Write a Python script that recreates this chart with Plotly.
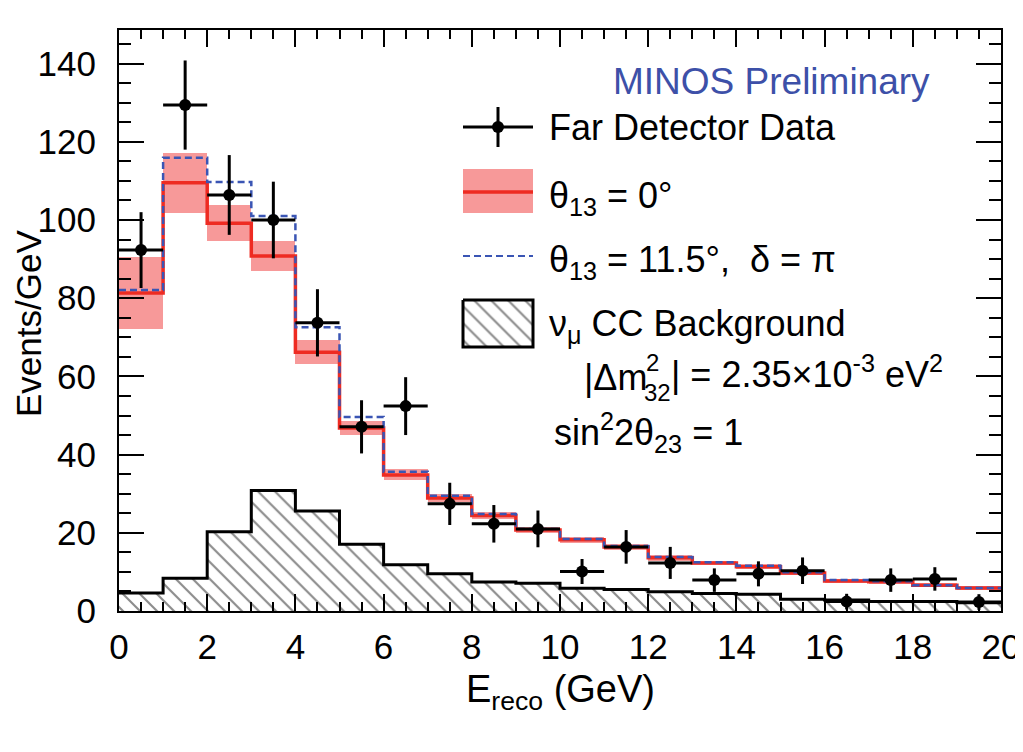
import plotly.graph_objects as go

# ---------------- data ----------------
bin_edges = list(range(0, 21))
bin_centers = [e + 0.5 for e in range(20)]

data_y = [92.3, 129.4, 106.4, 100.0, 73.7, 47.1, 52.4, 27.4, 22.3, 21.0,
          10.1, 16.4, 12.3, 7.9, 9.5, 10.3, 2.4, 7.9, 8.2, 2.3]
data_err = [9.7, 11.4, 10.2, 9.8, 8.6, 6.8, 7.4, 5.4, 4.8, 4.7,
            3.2, 4.3, 4.1, 3.0, 3.2, 3.4, 2.0, 3.0, 3.0, 2.0]

pred_theta0 = [81.3, 109.5, 99.2, 90.8, 66.2, 46.8, 34.8, 28.9, 24.4, 20.7,
               18.2, 16.4, 13.6, 12.3, 11.3, 9.7, 7.7, 7.5, 6.6, 5.9]
pred_theta0_err = [9.2, 7.6, 4.6, 3.8, 3.0, 1.9, 1.4, 1.0, 0.9, 0.8,
                   0.8, 0.7, 0.7, 0.6, 0.6, 0.6, 0.5, 0.5, 0.5, 0.4]

pred_theta115 = [82.1, 115.9, 109.7, 101.0, 72.6, 49.6, 35.6, 29.5, 24.8, 21.0,
                 18.4, 16.6, 13.8, 12.5, 11.6, 9.9, 7.9, 7.6, 6.6, 5.9]

numu_bkg = [4.6, 8.4, 20.3, 30.8, 25.6, 17.1, 11.8, 9.5, 7.4, 7.1,
            5.8, 5.5, 4.9, 4.5, 4.3, 3.0, 2.8, 2.4, 2.4, 2.1]

x_ticks = list(range(0, 21, 2))
y_ticks = list(range(0, 141, 20))

# ---------------- styles ----------------
RED = "#ee2b22"
BAND = "rgba(240,70,70,0.55)"
BLUE = "#3a55b4"
TITLE_BLUE = "#3d50a8"
FONT = "Liberation Sans, Arial, sans-serif"

# page geometry (the html body adds an 8px margin)
BODY = 8
X0, X1, YT, YB = 119, 1001, 30, 611   # plot frame in page pixels
W_PLOT = X1 - X0
H_PLOT = YB - YT


def px_x(p):
    return (p - X0) / W_PLOT


def px_y(p):
    return (YB - p) / H_PLOT


fig = go.Figure()

# background (hatched)
fig.add_trace(go.Bar(
    x=bin_centers, y=numu_bkg, width=1.0,
    marker=dict(color="white", line=dict(width=0),
                pattern=dict(shape="\\", fgcolor="#1a1a1a", bgcolor="white",
                             size=12, solidity=0.18)),
    showlegend=False, hoverinfo="skip"))
fig.add_trace(go.Scatter(
    x=bin_edges, y=numu_bkg + [numu_bkg[-1]], mode="lines",
    line=dict(color="black", width=3, shape="hv"),
    showlegend=False, hoverinfo="skip"))

# theta13 = 0 error band
band_lo = [v - e for v, e in zip(pred_theta0, pred_theta0_err)]
band_h = [2 * e for e in pred_theta0_err]
fig.add_trace(go.Bar(
    x=bin_centers, y=band_h, base=band_lo, width=1.0,
    marker=dict(color=BAND, line=dict(width=0)),
    showlegend=False, hoverinfo="skip"))
fig.add_trace(go.Scatter(
    x=bin_edges, y=pred_theta0 + [pred_theta0[-1]], mode="lines",
    line=dict(color=RED, width=3.5, shape="hv"),
    showlegend=False))
fig.add_trace(go.Scatter(
    x=bin_edges, y=pred_theta115 + [pred_theta115[-1]], mode="lines",
    line=dict(color=BLUE, width=2.5, shape="hv", dash="7px,4px"),
    showlegend=False))

# data
fig.add_trace(go.Scatter(
    x=bin_centers, y=data_y, mode="markers",
    marker=dict(color="black", size=12, symbol="circle"),
    error_y=dict(type="data", array=data_err, color="black", thickness=3, width=0),
    error_x=dict(type="data", array=[0.5] * 20, color="black", thickness=3, width=0),
    showlegend=False))

# ------------- legend drawn in pixel space (overlay axes) -------------
fig.add_trace(go.Scatter(
    x=[498], y=[127], mode="markers", xaxis="x2", yaxis="y2",
    marker=dict(color="black", size=12),
    error_x=dict(type="constant", value=35, color="black", thickness=3, width=0),
    error_y=dict(type="constant", value=20, color="black", thickness=3, width=0),
    showlegend=False, hoverinfo="skip"))
fig.add_trace(go.Scatter(
    x=[463, 533, 533, 463, 463], y=[169, 169, 213, 213, 169], mode="lines",
    xaxis="x2", yaxis="y2", fill="toself", fillcolor=BAND,
    line=dict(width=0), showlegend=False, hoverinfo="skip"))
fig.add_trace(go.Scatter(
    x=[463, 533], y=[192, 192], mode="lines", xaxis="x2", yaxis="y2",
    line=dict(color=RED, width=3.5), showlegend=False, hoverinfo="skip"))
fig.add_trace(go.Scatter(
    x=[463, 533], y=[256, 256], mode="lines", xaxis="x2", yaxis="y2",
    line=dict(color=BLUE, width=2, dash="7px,4px"), showlegend=False, hoverinfo="skip"))
fig.add_trace(go.Scatter(
    x=[463, 533, 533, 463, 463], y=[300, 300, 347, 347, 300], mode="lines",
    xaxis="x2", yaxis="y2", fill="toself", fillcolor="white",
    fillpattern=dict(shape="\\", fgcolor="#1a1a1a", bgcolor="white", size=12, solidity=0.18),
    line=dict(color="black", width=3), showlegend=False, hoverinfo="skip"))


def txt(x, y, s, size=36, color="black", xanchor="left"):
    return dict(x=px_x(x), y=px_y(y), xref="paper", yref="paper", text=s, showarrow=False,
                xanchor=xanchor, yanchor="middle",
                font=dict(family=FONT, size=size, color=color))


annotations = [
    txt(932, 82, "MINOS Preliminary", size=37, color=TITLE_BLUE, xanchor="right"),
    txt(547, 127, "Far Detector Data"),
    txt(547, 198, "θ<sub>13</sub> = 0°"),
    txt(547, 262, "θ<sub>13</sub> = 11.5°,  δ = π"),
    txt(547, 326, "ν<sub>μ</sub> CC Background"),
    txt(582, 377, "|Δm"),
    txt(644, 362, "2", size=24),
    txt(642, 392, "32", size=24),
    txt(669, 372, "| = 2.35×10<sup>-3</sup> eV<sup>2</sup>"),
    txt(552, 432, "sin<sup>2</sup>2θ<sub>23</sub> = 1"),
]
yt = txt(28, 324, "Events/GeV", size=35, xanchor="center")
yt["textangle"] = -90
annotations.append(yt)
annotations.append(txt(560, 692, "E<sub>reco</sub> (GeV)", size=38, xanchor="center"))

axis_font = dict(family=FONT, size=35, color="black")
FIG_W, FIG_H = 1023 - BODY, 752 - BODY
fig.update_layout(
    width=FIG_W, height=FIG_H,
    margin=dict(l=X0 - BODY, r=FIG_W - (X1 - BODY), t=YT - BODY, b=FIG_H - (YB - BODY),
                autoexpand=False),
    plot_bgcolor="white", paper_bgcolor="white",
    barmode="overlay", bargap=0,
    showlegend=False,
    annotations=annotations,
    xaxis=dict(range=[0, 20], tickvals=x_ticks, ticks="inside", ticklen=17, tickwidth=1.5,
               tickcolor="black", showline=True, linecolor="black", linewidth=2,
               mirror="ticks", showgrid=False, zeroline=False, tickfont=axis_font,
               ticklabelstandoff=4,
               minor=dict(dtick=0.5, ticks="inside", ticklen=9, tickwidth=1.5,
                          tickcolor="black", showgrid=False)),
    yaxis=dict(range=[0, (YB - YT) / 3.91], tickvals=y_ticks, ticks="inside", ticklen=25,
               tickwidth=1.5, tickcolor="black", showline=True, linecolor="black",
               linewidth=2, mirror="ticks", showgrid=False, zeroline=False,
               tickfont=axis_font, ticklabelstandoff=14,
               minor=dict(dtick=5, ticks="inside", ticklen=12, tickwidth=1.5,
                          tickcolor="black", showgrid=False)),
    xaxis2=dict(overlaying="x", range=[X0, X1], visible=False, fixedrange=True),
    yaxis2=dict(overlaying="y", range=[YB, YT], visible=False, fixedrange=True),
)

fig.write_html("out.html")
